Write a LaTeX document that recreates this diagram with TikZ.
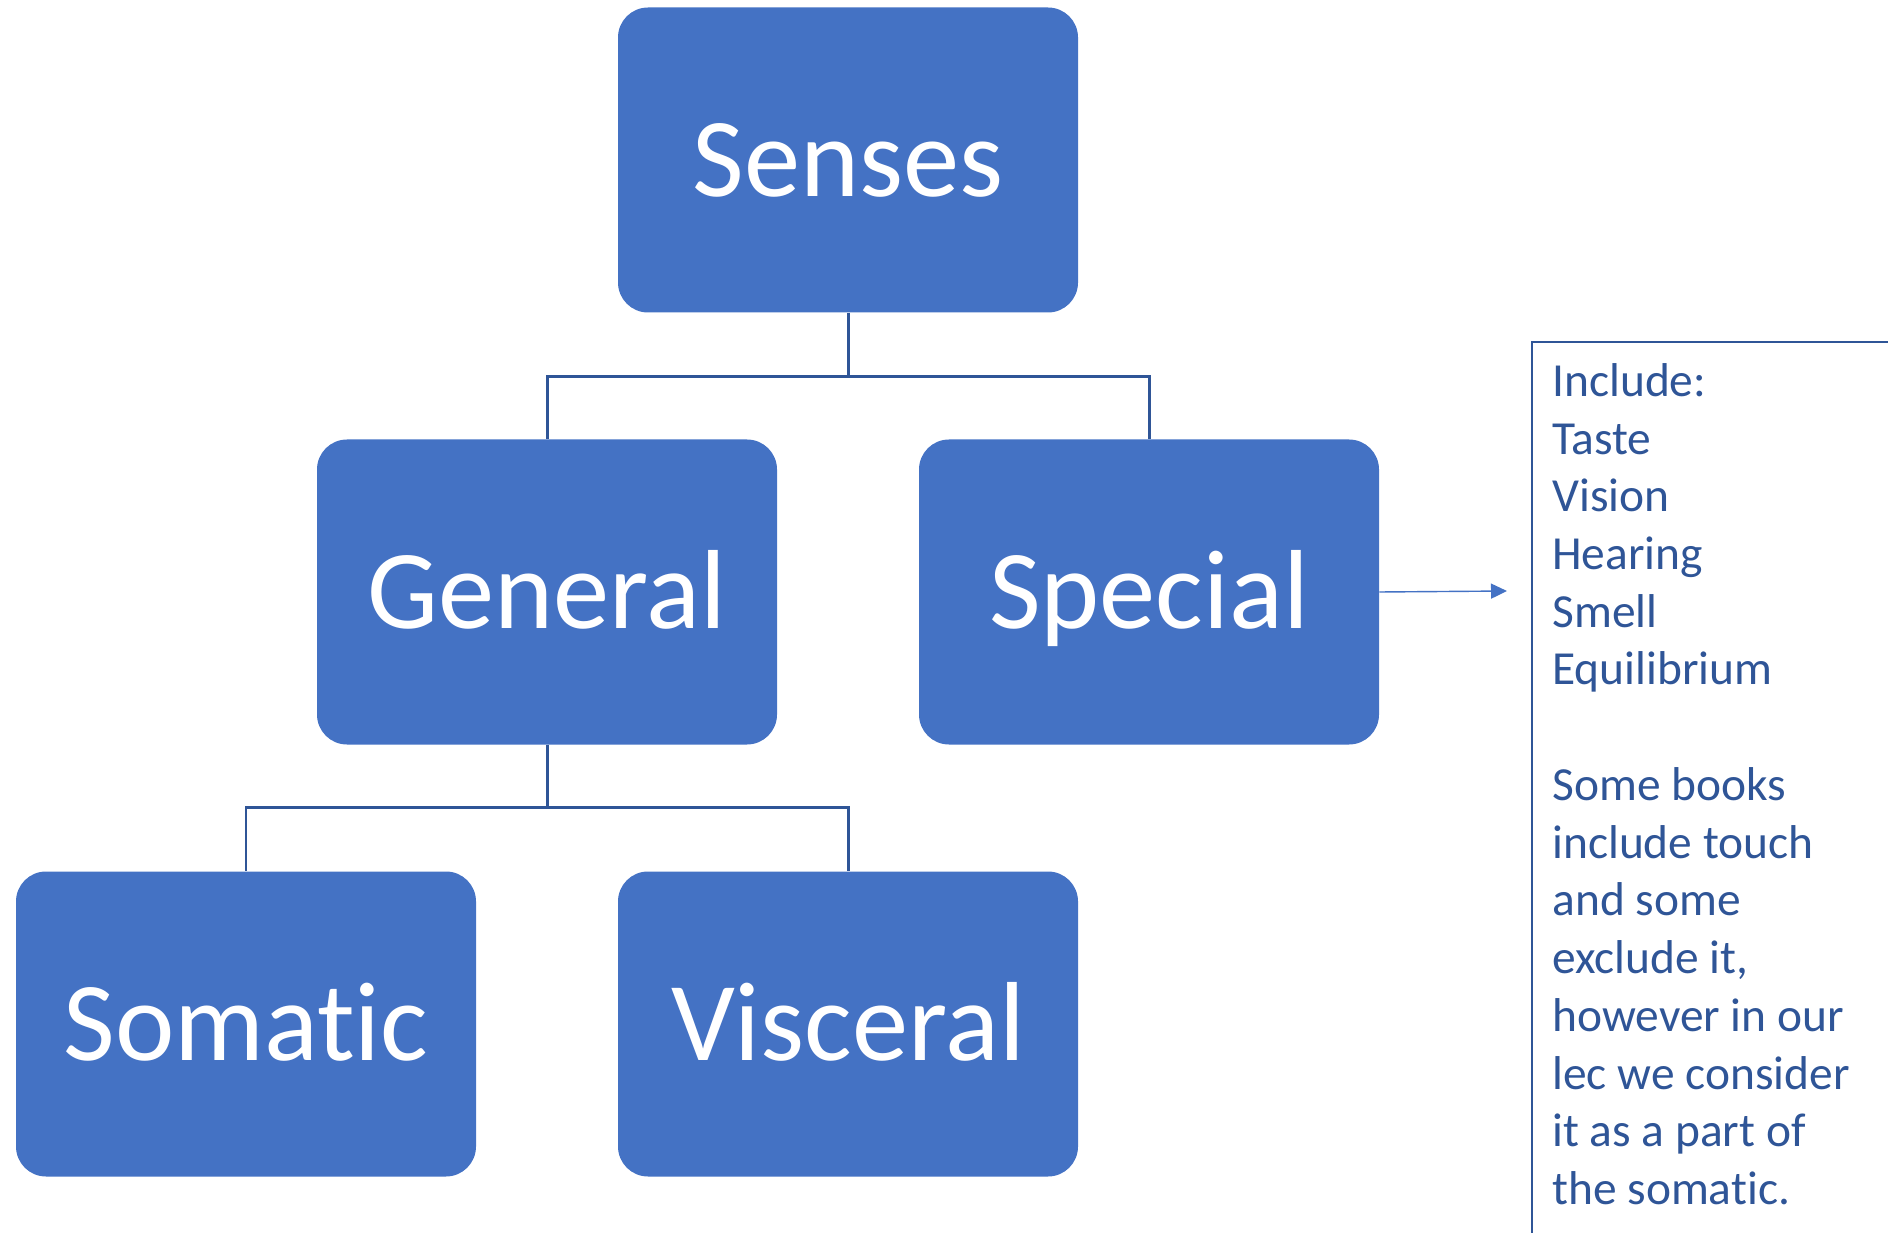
\documentclass[tikz,border=0pt]{standalone}
\usepackage{fontspec}
\setmainfont{Carlito}[Ligatures=NoCommon]
\usepackage{tikz}
\usetikzlibrary{arrows.meta}
\usetikzlibrary{positioning}
\definecolor{BoxBlue}{RGB}{68,114,196}
\definecolor{LineBlue}{RGB}{47,85,151}
\tikzset{
	sense/.style={fill=BoxBlue, draw=none, rounded corners=0.6cm,
		minimum width=9.2cm, minimum height=6.1cm, text=white,
		font=\fontsize{64}{77}\selectfont, text height=1.46cm, text depth=0pt},
	branch/.style={draw=LineBlue, line width=1.7pt},
	noteline/.style={draw=LineBlue, line width=1.4pt},
	notetext/.style={text=LineBlue, align=left, inner sep=0pt,
		font=\fontsize{27}{32.85}\selectfont},
}

\begin{document}
\begin{tikzpicture}
	
		\useasboundingbox (0,0) rectangle (37.76,24.64);
		
		\coordinate (se) at (16.96,21.44); %senses
		\coordinate (ge) at (10.94,12.8);  %general
		\coordinate (sp) at (22.98,12.8);  %special
		\coordinate (so) at (4.92,4.16);   %somatic
		\coordinate (vi) at (16.96,4.16);  %visceral
		
		\node [sense] (senses) at (se) {Senses};
		\node [sense] (general) at (ge) {General};
		\node [sense] (special) at (sp) {Special};
		\node [sense] (somatic) at (so) {Somatic};
		\node [sense] (visceral) at (vi) {Visceral};
		
		\draw [branch] (senses.south) -- ++(0,-1.28) -| (general.north);
		\draw [branch] (senses.south) -- ++(0,-1.28) -| (special.north);
		\draw [branch] (general.south) -- ++(0,-1.26) -| (somatic.north);
		\draw [branch] (general.south) -- ++(0,-1.26) -| (visceral.north);
		
		% note frame runs off the page
		\draw [noteline] (30.64,-1) -- (30.64,17.8) -- (39,17.8);
		\node [notetext, anchor=north west] (note) at (31.04,17.38)
			{Include:\\Taste\\Vision\\Hearing\\Smell\\Equilibrium\\[32.85pt]Some books\\include touch\\and some\\exclude it,\\however in our\\lec we consider\\it as a part of\\the somatic.};
		
		\coordinate (tip) at (30.14,12.82);
		\draw [-{Triangle[length=0.32cm, width=0.3cm]}, draw=BoxBlue, fill=BoxBlue, line width=0.8pt] (special.east) -- (tip);
	\end{tikzpicture}
\end{document}
